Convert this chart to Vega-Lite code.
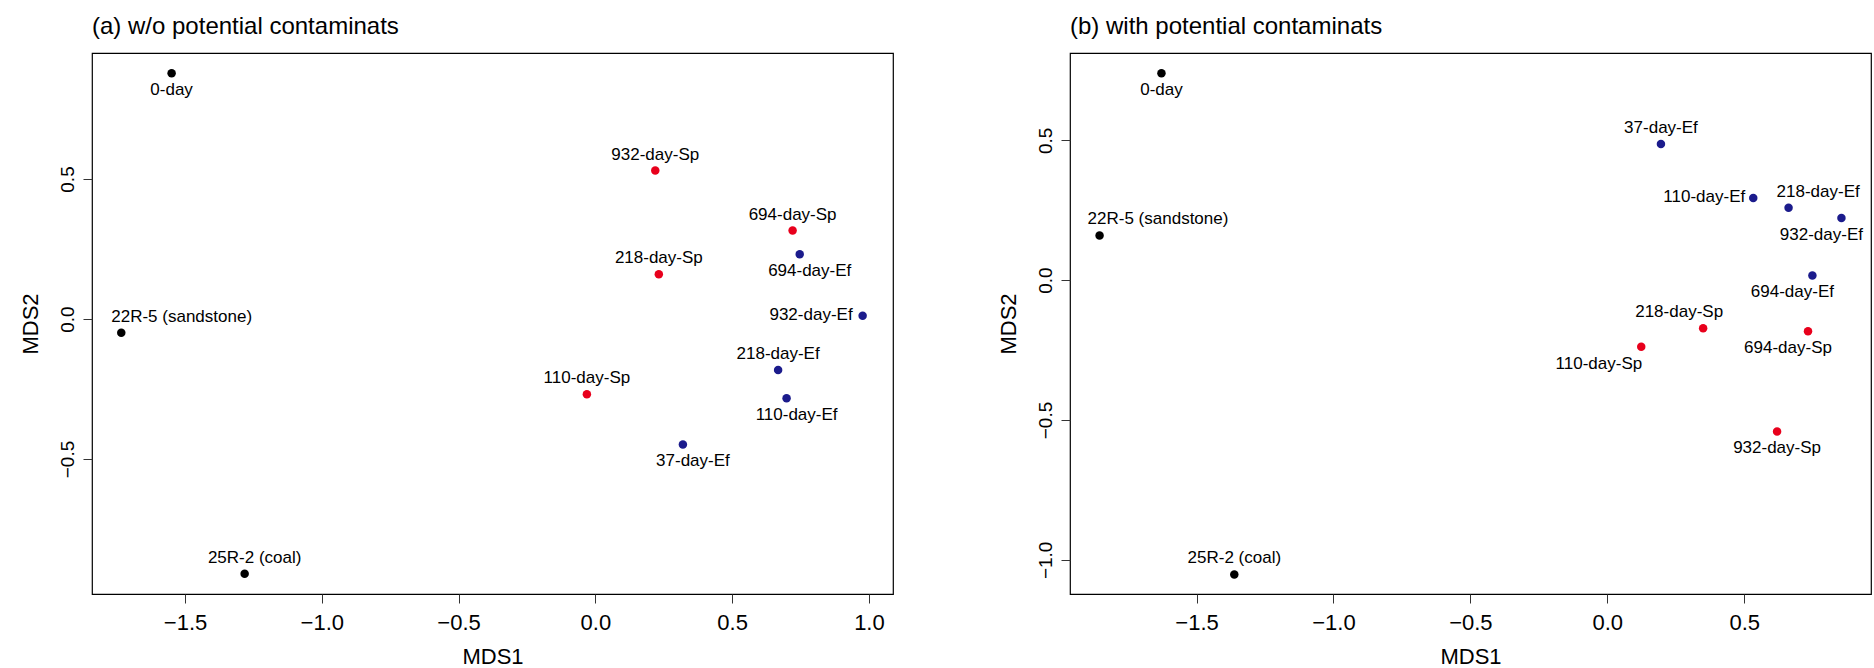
{
  "$schema": "https://vega.github.io/schema/vega-lite/v6.json",
  "padding": {"left": 18, "top": 14, "right": 0, "bottom": 0},
  "autosize": {"type": "pad"},
  "spacing": 102,
  "background": "white",
  "datasets": {
    "pts": [
      {"panel": "a", "label": "0-day", "mds1": -1.549, "mds2": 0.878, "grp": "ref", "pos": "below"},
      {"panel": "a", "label": "932-day-Sp", "mds1": 0.219, "mds2": 0.530, "grp": "Sp", "pos": "above"},
      {"panel": "a", "label": "694-day-Sp", "mds1": 0.721, "mds2": 0.316, "grp": "Sp", "pos": "above"},
      {"panel": "a", "label": "694-day-Ef", "mds1": 0.747, "mds2": 0.231, "grp": "Ef", "pos": "below-r"},
      {"panel": "a", "label": "218-day-Sp", "mds1": 0.232, "mds2": 0.160, "grp": "Sp", "pos": "above"},
      {"panel": "a", "label": "932-day-Ef", "mds1": 0.977, "mds2": 0.012, "grp": "Ef", "pos": "left"},
      {"panel": "a", "label": "22R-5 (sandstone)", "mds1": -1.733, "mds2": -0.049, "grp": "ref", "pos": "above-start"},
      {"panel": "a", "label": "218-day-Ef", "mds1": 0.668, "mds2": -0.182, "grp": "Ef", "pos": "above"},
      {"panel": "a", "label": "110-day-Sp", "mds1": -0.031, "mds2": -0.269, "grp": "Sp", "pos": "above"},
      {"panel": "a", "label": "110-day-Ef", "mds1": 0.699, "mds2": -0.283, "grp": "Ef", "pos": "below-r"},
      {"panel": "a", "label": "37-day-Ef", "mds1": 0.320, "mds2": -0.448, "grp": "Ef", "pos": "below-r"},
      {"panel": "a", "label": "25R-2 (coal)", "mds1": -1.282, "mds2": -0.910, "grp": "ref", "pos": "above-r"},
      {"panel": "b", "label": "0-day", "mds1": -1.628, "mds2": 0.740, "grp": "ref", "pos": "below"},
      {"panel": "b", "label": "37-day-Ef", "mds1": 0.196, "mds2": 0.487, "grp": "Ef", "pos": "above"},
      {"panel": "b", "label": "110-day-Ef", "mds1": 0.533, "mds2": 0.294, "grp": "Ef", "pos": "left"},
      {"panel": "b", "label": "218-day-Ef", "mds1": 0.662, "mds2": 0.259, "grp": "Ef", "pos": "above-start"},
      {"panel": "b", "label": "932-day-Ef", "mds1": 0.855, "mds2": 0.222, "grp": "Ef", "pos": "below-shift"},
      {"panel": "b", "label": "22R-5 (sandstone)", "mds1": -1.854, "mds2": 0.160, "grp": "ref", "pos": "above-start"},
      {"panel": "b", "label": "694-day-Ef", "mds1": 0.749, "mds2": 0.017, "grp": "Ef", "pos": "below-shift"},
      {"panel": "b", "label": "218-day-Sp", "mds1": 0.350, "mds2": -0.172, "grp": "Sp", "pos": "above-shift"},
      {"panel": "b", "label": "694-day-Sp", "mds1": 0.733, "mds2": -0.183, "grp": "Sp", "pos": "below-shift"},
      {"panel": "b", "label": "110-day-Sp", "mds1": 0.124, "mds2": -0.238, "grp": "Sp", "pos": "below-end"},
      {"panel": "b", "label": "932-day-Sp", "mds1": 0.620, "mds2": -0.541, "grp": "Sp", "pos": "below"},
      {"panel": "b", "label": "25R-2 (coal)", "mds1": -1.362, "mds2": -1.052, "grp": "ref", "pos": "above"}
    ]
  },
  "config": {
    "view": {"stroke": "black", "strokeWidth": 1.2},
    "axis": {
      "domain": false, "grid": false, "tickColor": "#333333", "tickSize": 9, "tickWidth": 1,
      "labelColor": "black", "titleColor": "black", "labelFont": "Liberation Sans", "titleFont": "Liberation Sans",
      "titleFontWeight": "normal", "labelOverlap": false, "labelFlush": false
    },
    "axisX": {"labelFontSize": 22, "labelPadding": 9, "titleFontSize": 22, "titlePadding": 13},
    "axisY": {"labelFontSize": 19, "labelAngle": -90, "labelAlign": "center", "labelBaseline": "bottom", "labelPadding": 6, "titleFontSize": 22, "titlePadding": 16},
    "title": {"anchor": "start", "frame": "group", "fontSize": 24, "fontWeight": "normal", "font": "Liberation Sans", "color": "black", "offset": 14, "baseline": "bottom"},
    "text": {"font": "Liberation Sans", "fontSize": 17, "fill": "black"},
    "circle": {"size": 72, "opacity": 1}
  },
  "resolve": {"scale": {"x": "independent", "y": "independent"}},
  "hconcat": [
    {
      "title": "(a) w/o potential contaminats",
      "width": 801, "height": 541,
      "data": {"name": "pts"},
      "transform": [{"filter": "datum.panel === 'a'"}],
      "encoding": {
        "x": {"field": "mds1", "type": "quantitative", "title": "MDS1",
              "scale": {"domain": [-1.84, 1.088], "nice": false, "zero": false},
              "axis": {"values": [-1.5, -1, -0.5, 0, 0.5, 1], "format": ".1f"}},
        "y": {"field": "mds2", "type": "quantitative", "title": "MDS2",
              "scale": {"domain": [-0.982, 0.95], "nice": false, "zero": false},
              "axis": {"values": [-0.5, 0, 0.5], "format": ".1f"}}
      },
      "layer": [
        {"mark": {"type": "circle"},
         "encoding": {"color": {"field": "grp", "type": "nominal", "legend": null,
                      "scale": {"domain": ["ref", "Sp", "Ef"], "range": ["#000000", "#e8001c", "#1b1b8c"]}}}},
        {"transform": [{"filter": "datum.pos === 'above'"}], "mark": {"type": "text", "align": "center", "baseline": "alphabetic", "dy": -11}, "encoding": {"text": {"field": "label"}}},
        {"transform": [{"filter": "datum.pos === 'below'"}], "mark": {"type": "text", "align": "center", "baseline": "alphabetic", "dy": 22}, "encoding": {"text": {"field": "label"}}},
        {"transform": [{"filter": "datum.pos === 'below-r'"}], "mark": {"type": "text", "align": "center", "baseline": "alphabetic", "dx": 10, "dy": 22}, "encoding": {"text": {"field": "label"}}},
        {"transform": [{"filter": "datum.pos === 'above-r'"}], "mark": {"type": "text", "align": "center", "baseline": "alphabetic", "dx": 10, "dy": -11}, "encoding": {"text": {"field": "label"}}},
        {"transform": [{"filter": "datum.pos === 'left'"}], "mark": {"type": "text", "align": "right", "baseline": "alphabetic", "dx": -10, "dy": 4}, "encoding": {"text": {"field": "label"}}},
        {"transform": [{"filter": "datum.pos === 'above-start'"}], "mark": {"type": "text", "align": "left", "baseline": "alphabetic", "dx": -10, "dy": -11}, "encoding": {"text": {"field": "label"}}}
      ]
    },
    {
      "title": "(b) with potential contaminats",
      "width": 801, "height": 541,
      "data": {"name": "pts"},
      "transform": [{"filter": "datum.panel === 'b'"}],
      "encoding": {
        "x": {"field": "mds1", "type": "quantitative", "title": "MDS1",
              "scale": {"domain": [-1.962, 0.963], "nice": false, "zero": false},
              "axis": {"values": [-1.5, -1, -0.5, 0, 0.5], "format": ".1f"}},
        "y": {"field": "mds2", "type": "quantitative", "title": "MDS2",
              "scale": {"domain": [-1.122, 0.812], "nice": false, "zero": false},
              "axis": {"values": [-1, -0.5, 0, 0.5], "format": ".1f"}}
      },
      "layer": [
        {"mark": {"type": "circle"},
         "encoding": {"color": {"field": "grp", "type": "nominal", "legend": null,
                      "scale": {"domain": ["ref", "Sp", "Ef"], "range": ["#000000", "#e8001c", "#1b1b8c"]}}}},
        {"transform": [{"filter": "datum.pos === 'above'"}], "mark": {"type": "text", "align": "center", "baseline": "alphabetic", "dy": -11}, "encoding": {"text": {"field": "label"}}},
        {"transform": [{"filter": "datum.pos === 'below'"}], "mark": {"type": "text", "align": "center", "baseline": "alphabetic", "dy": 22}, "encoding": {"text": {"field": "label"}}},
        {"transform": [{"filter": "datum.pos === 'below-shift'"}], "mark": {"type": "text", "align": "center", "baseline": "alphabetic", "dx": -20, "dy": 22}, "encoding": {"text": {"field": "label"}}},
        {"transform": [{"filter": "datum.pos === 'above-shift'"}], "mark": {"type": "text", "align": "center", "baseline": "alphabetic", "dx": -24, "dy": -11}, "encoding": {"text": {"field": "label"}}},
        {"transform": [{"filter": "datum.pos === 'below-end'"}], "mark": {"type": "text", "align": "right", "baseline": "alphabetic", "dx": 1, "dy": 22}, "encoding": {"text": {"field": "label"}}},
        {"transform": [{"filter": "datum.pos === 'left'"}], "mark": {"type": "text", "align": "right", "baseline": "alphabetic", "dx": -8, "dy": 4}, "encoding": {"text": {"field": "label"}}},
        {"transform": [{"filter": "datum.pos === 'above-start'"}], "mark": {"type": "text", "align": "left", "baseline": "alphabetic", "dx": -12, "dy": -11}, "encoding": {"text": {"field": "label"}}}
      ]
    }
  ]
}
